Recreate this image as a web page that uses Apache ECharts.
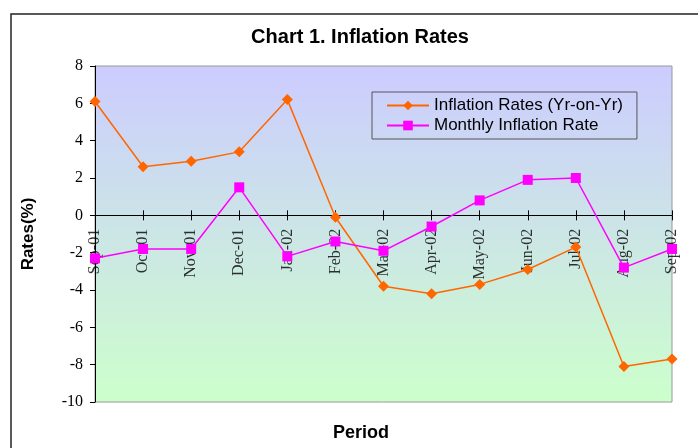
<!DOCTYPE html>
<html>
<head>
<meta charset="utf-8">
<script src="https://cdn.jsdelivr.net/npm/echarts@6/dist/echarts.min.js"></script>
<style>
  html, body { margin: 0; padding: 0; background: #fff; }
  #chart { width: 698px; height: 448px; }
</style>
</head>
<body>
<div id="chart"></div>
<script>
var periods = ['Sep-01', 'Oct-01', 'Nov-01', 'Dec-01', 'Jan-02', 'Feb-02', 'Mar-02',
  'Apr-02', 'May-02', 'Jun-02', 'Jul-02', 'Aug-02', 'Sep-02'];
var yrOnYr = [6.1, 2.6, 2.9, 3.4, 6.2, -0.1, -3.8, -4.2, -3.7, -2.9, -1.7, -8.1, -7.7];
var monthly = [-2.3, -1.8, -1.8, 1.5, -2.2, -1.4, -1.9, -0.6, 0.8, 1.9, 2.0, -2.8, -1.8];

var chart = echarts.init(document.getElementById('chart'));

var serif = '"Liberation Serif", "DejaVu Serif", serif';
var sans = '"Liberation Sans", Arial, sans-serif';

// category labels hang from the zero line, so they ride on an invisible series at y = 0
var labelPoints = periods.map(function (p) { return [p, 0]; });

var option = {
  backgroundColor: '#fff',
  animation: false,
  title: {
    text: 'Chart 1. Inflation Rates',
    left: 355,
    top: 22,
    textAlign: 'center',
    textStyle: { fontFamily: sans, fontSize: 20, fontWeight: 'bold', color: '#000' }
  },
  graphic: [{
    type: 'rect',
    shape: { x: 11, y: 14, width: 700, height: 450 },
    style: { fill: 'none', stroke: '#222', lineWidth: 1.5 },
    silent: true
  }, {
    type: 'text',
    left: 333,
    top: 424,
    style: { text: 'Period', font: 'bold 18px ' + sans, fill: '#000' },
    silent: true
  }],
  legend: {
    left: 372,
    top: 92,
    orient: 'vertical',
    itemGap: 3,
    itemWidth: 42,
    itemHeight: 12,
    padding: [5, 14, 5, 14],
    borderColor: '#555',
    borderWidth: 1,
    textStyle: { fontFamily: sans, fontSize: 17, color: '#000' },
    data: ['Inflation Rates (Yr-on-Yr)', 'Monthly Inflation Rate']
  },
  grid: {
    left: 95,
    right: 26,
    top: 66,
    bottom: 46,
    containLabel: false,
    outerBoundsMode: 'none',
    show: true,
    borderColor: '#999',
    borderWidth: 1,
    backgroundColor: new echarts.graphic.LinearGradient(0, 0, 0, 1, [
      { offset: 0, color: '#CCCCFF' },
      { offset: 1, color: '#CCFFCC' }
    ])
  },
  xAxis: [{
    type: 'category',
    data: periods,
    boundaryGap: false,
    axisLine: { onZero: true, lineStyle: { color: '#000', width: 1 } },
    axisTick: { show: true, inside: false, interval: 0, length: 5, lineStyle: { color: '#000' } },
    axisLabel: { show: false }
  }, {
    type: 'category',
    data: periods,
    boundaryGap: false,
    position: 'bottom',
    axisLine: { onZero: true, onZeroAxisIndex: 0, show: false },
    axisTick: { show: true, inside: true, interval: 0, length: 5, lineStyle: { color: '#000' } },
    axisLabel: { show: false }
  }],
  yAxis: [{
    type: 'value',
    min: -10,
    max: 8,
    interval: 2,
    position: 'left',
    axisLine: { show: true, lineStyle: { color: '#000', width: 1 } },
    axisTick: { show: true, inside: false, length: 5, lineStyle: { color: '#000' } },
    splitLine: { show: false },
    axisLabel: { fontFamily: serif, fontSize: 16, color: '#000', margin: 12 },
    name: 'Rates(%)',
    nameLocation: 'middle',
    nameGap: 58,
    nameTextStyle: { fontFamily: sans, fontSize: 17, fontWeight: 'bold', color: '#000' }
  }],
  series: [{
    name: 'Inflation Rates (Yr-on-Yr)',
    type: 'line',
    data: yrOnYr,
    symbol: 'diamond',
    symbolSize: 11,
    color: '#FF6600',
    lineStyle: { width: 1.5, color: '#FF6600' },
    itemStyle: { color: '#FF6600' }
  }, {
    name: 'Monthly Inflation Rate',
    type: 'line',
    data: monthly,
    symbol: 'rect',
    symbolSize: 10,
    color: '#FF00FF',
    lineStyle: { width: 1.5, color: '#FF00FF' },
    itemStyle: { color: '#FF00FF' }
  }, {
    name: 'periodLabels',
    type: 'scatter',
    data: labelPoints,
    z: 1,
    symbolSize: 1,
    itemStyle: { color: 'rgba(0,0,0,0)' },
    silent: true,
    label: {
      show: true,
      position: 'bottom',
      distance: 13,
      rotate: 90,
      align: 'right',
      verticalAlign: 'middle',
      formatter: function (p) { return p.value[0]; },
      fontFamily: serif,
      fontSize: 16,
      color: '#000'
    }
  }]
};

chart.setOption(option);
</script>
</body>
</html>
